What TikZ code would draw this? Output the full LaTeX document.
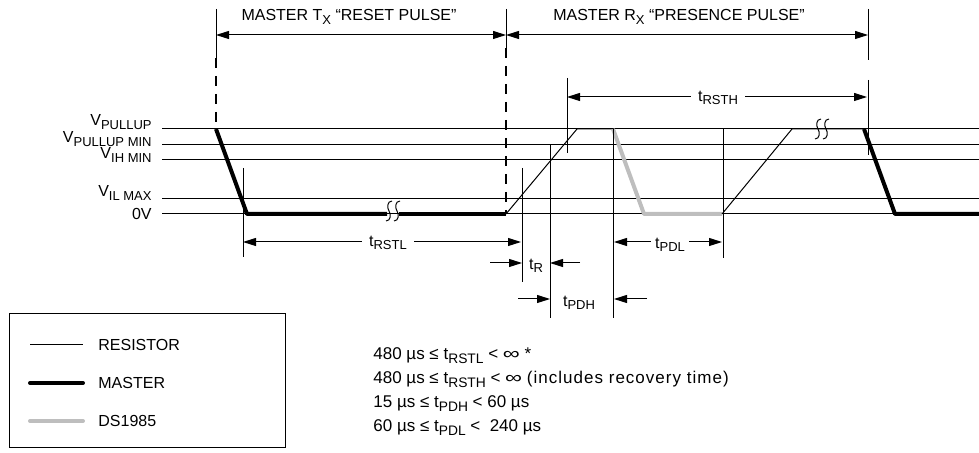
\documentclass[tikz,border=0pt]{standalone}
\usepackage{fontspec}
\setmainfont{Liberation Sans}
\usetikzlibrary{arrows.meta}
\newcommand{\lo}[1]{\raisebox{-1.7pt}{\fontsize{6.5}{7}\selectfont #1}}
\newcommand{\elo}[1]{\raisebox{-1.8pt}{\fontsize{6.9}{7}\selectfont #1}}
\newcommand{\wideinf}{\scalebox{1.4}[1]{∞}}
\definecolor{dsgray}{RGB}{190,190,190}
\tikzset{
  thin line/.style={line width=0.5pt},
  master/.style={line width=2pt},
  dslink/.style={line width=2pt, dsgray},
  guide/.style={line width=1pt, dash pattern=on 5pt off 4pt},
  dim/.style={line width=0.5pt, -{Triangle[length=6.5pt,width=4pt]}},
  dimboth/.style={line width=0.5pt, {Triangle[length=6.5pt,width=4pt]}-{Triangle[length=6.5pt,width=4pt]}},
  lbl/.style={inner ysep=0pt, inner xsep=3.5pt},
  limit/.style={anchor=base west, inner sep=0pt, font=\fontsize{8.5}{10}\selectfont},
}

\begin{document}
\begin{tikzpicture}[x=0.5pt, y=-0.5pt, font=\fontsize{8}{10}\selectfont]
    \useasboundingbox (0,0) rectangle (979,453);

    % voltage levels
    \foreach \y/\n in {129/pu, 145/pum, 160/ih, 199/il, 214/zv}{
      \coordinate (\n) at (162,\y);
      \draw[thin line] (\n) -- (979,\y);
    }
    \node[anchor=base east, inner sep=0pt] (lpu) at (152,126) {V\lo{PULLUP}};
    \node[anchor=base east, inner sep=0pt] (lpum) at (152,143) {V\lo{PULLUP MIN}};
    \node[anchor=base east, inner sep=0pt] (lih) at (152,159) {V\lo{IH MIN}};
    \node[anchor=base east, inner sep=0pt] (lil) at (152,197) {V\lo{IL MAX}};
    \node[anchor=base east, inner sep=0pt] (lzv) at (152,220) {0V};

    % guide lines and top arrows
    \coordinate (a0) at (216,35);
    \coordinate (a1) at (506,35);
    \coordinate (a2) at (868,35);
    \draw[thin line] (216,9) -- (216,58);
    \draw[guide] (216,58) -- (216,129);
    \draw[thin line] (506,9) -- (506,48);
    \draw[guide] (506,48) -- (506,214);
    \draw[thin line] (868,9) -- (868,60);
    \draw[thin line] (868,80) -- (868,155);
    \draw[dimboth] (a0) -- (a1);
    \draw[dimboth] (a1) -- (a2);
    \node[anchor=base, inner sep=0pt] (ttx) at (349,21) {MASTER T\lo{X} “RESET PULSE”};
    \node[anchor=base, inner sep=0pt] (trx) at (679,21) {MASTER R\lo{X} “PRESENCE PULSE”};

    % waveform
    \draw[master, line join=round] (216,129) -- (247,214) -- (387,214);
    \draw[master] (399,214) -- (506,214);
    \draw[thin line] (506,214) -- (577,129) -- (613,129);
    \draw[dslink, line join=round] (613,129) -- (644,214) -- (722,214);
    \draw[thin line] (722,214) -- (792,129) -- (864,129);
    \draw[master, line join=round] (864,129) -- (895,214) -- (979,214);

    % breaks
    \foreach \x/\y in {389/211, 397/211, 818/129, 826/129}{
      \draw[thin line] (\x+3,\y-10) .. controls (\x-2,\y-10) and (\x-2,\y-3) .. (\x,\y)
        .. controls (\x+2,\y+3) and (\x+2,\y+10) .. (\x-3,\y+10);
    }

    % time marks
    \draw[thin line] (243,168) -- (243,257);
    \draw[thin line] (522,168) -- (522,282);
    \draw[thin line] (550,145) -- (550,318);
    \draw[thin line] (613,129) -- (613,318);
    \draw[thin line] (723,129) -- (723,258);
    \draw[thin line] (567,78) -- (567,153);

    \coordinate (rl0) at (243,242);
    \coordinate (rl1) at (521,242);
    \node[lbl] (trstl) at (388,243) {t\lo{RSTL}};
    \draw[dim] (trstl.west |- rl0) -- (rl0);
    \draw[dim] (trstl.east |- rl1) -- (rl1);

    \coordinate (rh0) at (567,97);
    \coordinate (rh1) at (867,97);
    \node[lbl] (trsth) at (718,98) {t\lo{RSTH}};
    \draw[dim] (trsth.west |- rh0) -- (rh0);
    \draw[dim] (trsth.east |- rh1) -- (rh1);

    \coordinate (pl0) at (614,242);
    \coordinate (pl1) at (722,242);
    \node[lbl, inner xsep=2pt] (tpdl) at (670,245) {t\lo{PDL}};
    \draw[dim] (tpdl.west |- pl0) -- (pl0);
    \draw[dim] (tpdl.east |- pl1) -- (pl1);

    \coordinate (r0) at (490,263);
    \coordinate (r1) at (522,263);
    \coordinate (r2) at (580,263);
    \coordinate (r3) at (550,263);
    \draw[dim] (r0) -- (r1);
    \draw[dim] (r2) -- (r3);
    \node[lbl] (tr) at (536,266) {t\lo{R}};

    \coordinate (ph0) at (518,299);
    \coordinate (ph1) at (550,299);
    \coordinate (ph2) at (647,299);
    \coordinate (ph3) at (614,299);
    \draw[dim] (ph0) -- (ph1);
    \draw[dim] (ph2) -- (ph3);
    \node[lbl] (tpdh) at (579,303) {t\lo{PDH}};

    % legend
    \draw[thin line] (9,314) rectangle (285,448);
    \draw[thin line] (30,345) -- (83,345);
    \draw[master, line cap=round] (30,383) -- (83,383);
    \draw[dslink, line cap=round] (30,421) -- (83,421);
    \node[anchor=base west, inner sep=0pt] (kres) at (98,351) {RESISTOR};
    \node[anchor=base west, inner sep=0pt] (kmas) at (98,389) {MASTER};
    \node[anchor=base west, inner sep=0pt] (kds) at (98,427) {DS1985};

    % limits
    \node[limit] (e1) at (373,360) {480 µs ≤ t\elo{RSTL} < \wideinf{} *};
    \node[limit] (e2) at (373,384) {480 µs ≤ t\elo{RSTH} < \wideinf{} {\addfontfeature{LetterSpace=6}(includes recovery time)}};
    \node[limit] (e3) at (373,408) {15 µs ≤ t\elo{PDH} < 60 µs};
    \node[limit] (e4) at (373,432) {60 µs ≤ t\elo{PDL} <\ \ 240 µs};
  \end{tikzpicture}
\end{document}
